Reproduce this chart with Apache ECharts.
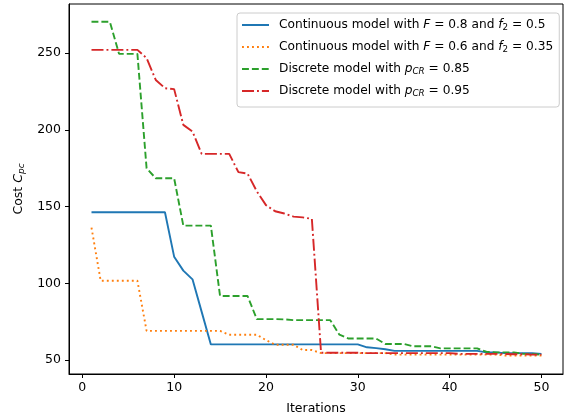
<!DOCTYPE html>
<html>
<head>
<meta charset="utf-8">
<script src="https://cdn.jsdelivr.net/npm/echarts@6/dist/echarts.min.js"></script>
<style>html,body{margin:0;padding:0;background:#fff}#c{width:565px;height:414px}</style>
</head>
<body>
<div id="c"></div>
<script>
const iterations = [1,2,3,4,5,6,7,8,9,10,11,12,13,14,15,16,17,18,19,20,21,22,23,24,25,26,27,28,29,30,31,32,33,34,35,36,37,38,39,40,41,42,43,44,45,46,47,48,49,50];
const contF08 = [146.3,146.3,146.3,146.3,146.3,146.3,146.3,146.3,146.3,117.4,108.3,102.6,81.4,60.2,60.2,60.2,60.2,60.2,60.2,60.2,60.2,60.2,60.2,60.2,60.2,60.2,60.2,60.2,60.2,60.2,58.3,57.8,57,56,56,56,56,56,56,56,56,56,56,55,55,54.5,54.5,54.5,54.5,54];
const contF06 = [136.3,101.7,101.7,101.7,101.7,101.7,69,69,69,69,69,69,69,69,69,66.5,66.5,66.5,66.5,63,60,60,60,56.5,56.5,54.5,54.5,54.5,54.5,54.5,54.5,54.5,54.5,53.5,53.5,53.5,53.5,53.5,53.5,53.5,53.5,53.5,53.5,53.5,53.5,53,53,53,53,53];
const discP085 = [270.5,270.5,270.5,249.6,249.6,249.6,175,168.5,168.5,168.5,137.6,137.6,137.6,137.6,91.7,91.7,91.7,91.7,76.7,76.7,76.7,76.5,76,76,76,76,76,66.5,64,64,64,64,60.5,60.5,60.5,59,59,59,57.6,57.6,57.6,57.6,57.6,55.4,55,55,55,54,54,53.5];
const discP095 = [252.2,252.2,252.2,252.2,252.2,252.2,246.8,232.6,227.2,226.6,203.3,198.9,184.4,184.4,184.4,184.4,172.5,171.5,160,151,147,145.5,143.5,143,142,54.8,54.8,54.8,54.8,54.8,54.5,54.5,54.5,54.5,54.5,54.5,54.5,54.5,54.5,54.5,54,54,54,54,54,54,53.8,53.8,53.5,53.5];
const xTicks = [0,10,20,30,40,50];
const yTicks = [50,100,150,200,250];
const seriesNames = [
  'Continuous model with {i|F} = 0.8 and {i|f}{s|2} = 0.5',
  'Continuous model with {i|F} = 0.6 and {i|f}{s|2} = 0.35',
  'Discrete model with {i|p}{si|CR} = 0.85',
  'Discrete model with {i|p}{si|CR} = 0.95'
];
const seriesData = [contF08, contF06, discP085, discP095];
const colors = ['#1f77b4', '#ff7f0e', '#2ca02c', '#d62728'];
const dashes = ['solid', [1.9, 3.1], [6.9, 3.0], [12, 3, 1.9, 3]];

const FONT = 'DejaVu Sans';
const FS = 12.5;
function makeRich(fs) {
  return {
    n: {fontFamily: FONT, fontSize: fs, lineHeight: 16, color: '#000'},
    i: {fontFamily: FONT, fontSize: fs, lineHeight: 16, fontStyle: 'italic', color: '#000'},
    s: {fontFamily: FONT, fontSize: fs * 0.72, lineHeight: 10, padding: [6, 0, 0, 0], color: '#000'},
    si: {fontFamily: FONT, fontSize: fs * 0.72, lineHeight: 10, padding: [6, 0, 0, 0], fontStyle: 'italic', color: '#000'}
  };
}

const chart = echarts.init(document.getElementById('c'), null, {renderer: 'canvas'});
chart.setOption({
  animation: false,
  backgroundColor: '#fff',
  grid: {left: 69, right: 2, top: 4, bottom: 40, outerBoundsMode: 'none', containLabel: false,
         show: true, borderColor: '#000', borderWidth: 1, backgroundColor: 'transparent'},
  xAxis: {
    type: 'value', min: -1.45, max: 52.35,
    name: 'Iterations', nameLocation: 'middle', nameGap: 28,
    nameTextStyle: {fontFamily: FONT, fontSize: FS, color: '#000'},
    axisLine: {show: true, onZero: false, lineStyle: {color: '#000', width: 1}},
    axisTick: {show: true, length: 4, inside: false, lineStyle: {color: '#000', width: 1}, customValues: xTicks},
    axisLabel: {fontFamily: FONT, fontSize: FS, color: '#000', margin: 7, customValues: xTicks},
    splitLine: {show: false}
  },
  yAxis: {
    type: 'value', min: 40.9, max: 282.1,
    name: '{n|Cost }{i|C}{si|pc}', nameLocation: 'middle', nameGap: 36,
    nameTextStyle: {fontFamily: FONT, fontSize: FS, color: '#000', rich: makeRich(FS)},
    axisLine: {show: true, onZero: false, lineStyle: {color: '#000', width: 1}},
    axisTick: {show: true, length: 4, inside: false, lineStyle: {color: '#000', width: 1}, customValues: yTicks},
    axisLabel: {fontFamily: FONT, fontSize: FS, color: '#000', margin: 8, customValues: yTicks},
    splitLine: {show: false}
  },
  legend: {
    show: true,
    orient: 'vertical', left: 237, top: 13,
    padding: [4, 6, 8, 4],
    itemWidth: 27, itemHeight: 14, itemGap: 6,
    itemStyle: {opacity: 0},
    backgroundColor: 'rgba(255,255,255,0.8)', borderColor: '#ccc', borderWidth: 1, borderRadius: 3,
    textStyle: {fontFamily: FONT, fontSize: 12.2, color: '#000', lineHeight: 16, padding: [0, 0, 0, 5], rich: makeRich(12.2)},
    data: seriesNames
  },
  series: seriesData.map((vals, k) => ({
    name: seriesNames[k],
    type: 'line',
    data: iterations.map((it, j) => [it, vals[j]]),
    showSymbol: false, symbol: 'none',
    color: colors[k],
    lineStyle: {color: colors[k], width: 1.9, type: dashes[k]},
    z: 2 + k
  }))
});
</script>
</body>
</html>
